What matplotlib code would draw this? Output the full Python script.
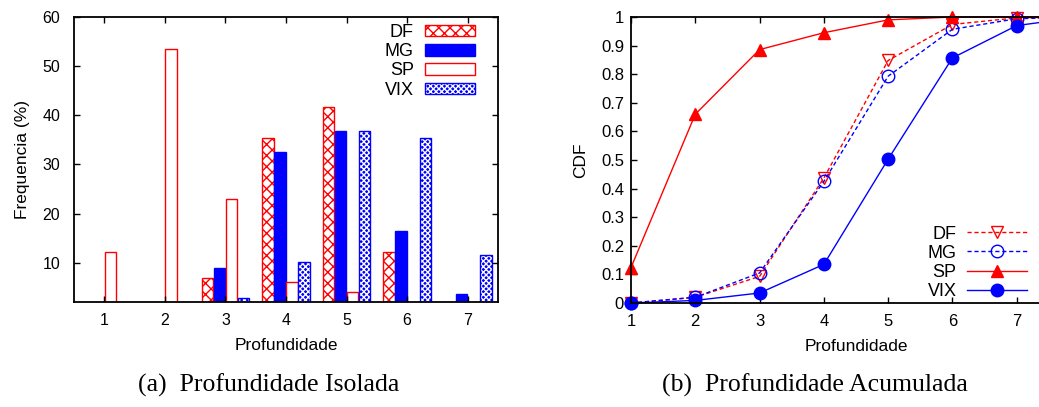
import numpy as np
from matplotlib import pyplot as plt

plt.rcParams['font.family'] = ['Liberation Sans', 'DejaVu Sans']
plt.rcParams['hatch.linewidth'] = 1.0

# depth histogram (%), values below 2 are hidden by the axis
depth = [1, 2, 3, 4, 5, 6, 7]
freqDF = [0, 1.5, 6.8, 35.3, 41.6, 12.2, 1.5]
freqMG = [0, 1.5, 9.0, 32.6, 36.7, 16.4, 3.6]
freqSP = [12.2, 53.4, 22.9, 6.1, 4.1, 1.0, 0]
freqVIX = [0, 1.0, 2.8, 10.2, 36.9, 35.3, 11.6]

# cumulative
cdfDepth = [1, 2, 3, 4, 5, 6, 7, 8]
cdfDF = [0.0, 0.02, 0.093, 0.437, 0.848, 0.974, 0.997, 1.0]
cdfMG = [0.0, 0.02, 0.105, 0.425, 0.793, 0.957, 0.994, 1.0]
cdfSP = [0.124, 0.66, 0.886, 0.945, 0.99, 1.0, 1.0, 1.0]
cdfVIX = [0.0, 0.009, 0.035, 0.135, 0.503, 0.857, 0.97, 1.0]

W, H = 1039, 407
fig = plt.figure(figsize=(W / 100, H / 100), dpi=100)

def box(x0, y0, x1, y1):
    # pixel box -> figure fraction
    return [x0 / W, 1 - y1 / H, (x1 - x0) / W, (y1 - y0) / H]

###############################################################
# (a) histogram
ax1 = fig.add_axes(box(74, 17, 498, 302))
x = np.array(depth)
bw = 0.19
hDF = ax1.bar(x - 0.3, freqDF, bw, facecolor='white', edgecolor='red', hatch='xxx', lw=1)
hMG = ax1.bar(x - 0.1, freqMG, bw, facecolor='blue', edgecolor='blue', lw=1)
hSP = ax1.bar(x + 0.1, freqSP, bw, facecolor='white', edgecolor='red', lw=1)
hVIXa = ax1.bar(x + 0.3, freqVIX, bw, facecolor='blue', edgecolor='white', hatch='xxxxxx', lw=0)
hVIXb = ax1.bar(x + 0.3, freqVIX, bw, fill=False, edgecolor='blue', lw=1)
ax1.set_xlim(0.5, 7.5)
ax1.set_ylim(2, 60)
ax1.set_xticks(depth)
ax1.set_yticks([10, 20, 30, 40, 50, 60])
ax1.tick_params(direction='in', top=True, right=True, length=4, width=1, labelsize=11.5)
ax1.tick_params(axis='y', pad=10)
ax1.tick_params(axis='x', pad=8)
ax1.set_xlabel('Profundidade', fontsize=12.5, labelpad=7)
ax1.set_ylabel('Frequencia (%)', fontsize=12.5, labelpad=9)
for s in ax1.spines.values():
    s.set_linewidth(1.3)
ax1.legend([hDF[0], hMG[0], hSP[0], (hVIXa[0], hVIXb[0])], ['DF', 'MG', 'SP', 'VIX'],
           loc='upper right', bbox_to_anchor=(0.946, 0.975), frameon=False, markerfirst=False,
           fontsize=13, handlelength=2.8, handleheight=0.6, labelspacing=0.12,
           borderpad=0, borderaxespad=0, handletextpad=0.6)

###############################################################
# (b) CDF
ax2 = fig.add_axes(box(631, 17, 1081, 303))
ax2.plot(cdfDepth, cdfDF, color='red', ls=(0, (3, 2)), lw=1, marker='v', ms=9,
         mfc='none', mec='red', mew=1, label='DF', clip_on=False)
ax2.plot(cdfDepth, cdfMG, color='blue', ls=(0, (3, 2)), lw=1, marker='o', ms=9,
         mfc='none', mec='blue', mew=1, label='MG', clip_on=False)
ax2.plot(cdfDepth, cdfSP, color='red', lw=1, marker='^', ms=9, label='SP', clip_on=False)
ax2.plot(cdfDepth, cdfVIX, color='blue', lw=1, marker='o', ms=9, label='VIX', clip_on=False)
ax2.set_xlim(1, 8)
ax2.set_ylim(0, 1)
ax2.set_xticks([1, 2, 3, 4, 5, 6, 7])
ax2.set_yticks(np.arange(0, 1.01, 0.1))
ax2.set_yticklabels(['0', '0.1', '0.2', '0.3', '0.4', '0.5', '0.6', '0.7', '0.8', '0.9', '1'])
ax2.tick_params(direction='in', top=True, right=True, length=4, width=1, labelsize=12)
ax2.tick_params(axis='y', pad=5)
ax2.tick_params(axis='x', pad=8)
ax2.set_xlabel('Profundidade', fontsize=12.5, labelpad=7)
ax2.set_ylabel('CDF', fontsize=12.5, labelpad=9)
for s in ax2.spines.values():
    s.set_linewidth(1.3)
ax2.legend(loc='lower right', bbox_to_anchor=(0.88, 0.01), frameon=False, markerfirst=False,
           fontsize=13, handlelength=3.3, labelspacing=0.12, numpoints=1,
           borderpad=0, borderaxespad=0, handletextpad=0.6)

# captions
fig.text(269 / W, 1 - 385 / H, '(a)  Profundidade Isolada', family='Liberation Serif',
         fontsize=18.5, ha='center', va='center')
fig.text(815 / W, 1 - 385 / H, '(b)  Profundidade Acumulada', family='Liberation Serif',
         fontsize=18.5, ha='center', va='center')

fig.savefig('out.png', dpi=100)
